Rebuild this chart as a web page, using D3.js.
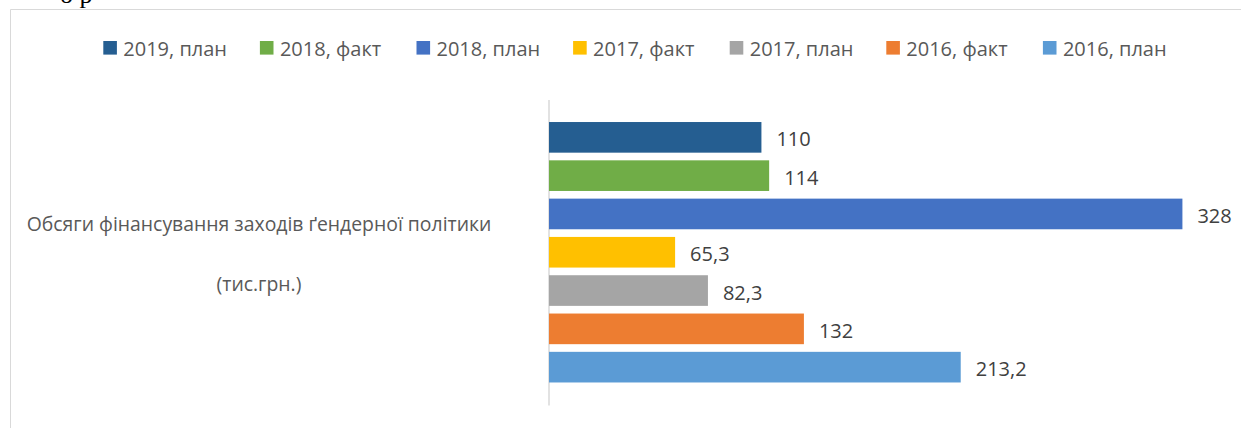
<!DOCTYPE html>
<html lang="uk">
<head>
<meta charset="utf-8">
<title>Обсяги фінансування заходів ґендерної політики</title>
<script src="https://cdn.jsdelivr.net/npm/d3@7"></script>
<style>
  html, body { margin: 0; padding: 0; background: #fff; }
  svg { display: block; }
  text { font-family: "Open Sans", "Noto Sans", sans-serif; }
</style>
</head>
<body>
<svg id="chart" width="1241" height="428"></svg>
<script>
// Series, top to bottom (same order in the legend)
const seriesNames = ["2019, план", "2018, факт", "2018, план", "2017, факт", "2017, план", "2016, факт", "2016, план"];
const seriesValues = [110, 114, 328, 65.3, 82.3, 132, 213.2];
const seriesColors = ["#255E91", "#70AD47", "#4472C4", "#FFC000", "#A5A5A5", "#ED7D31", "#5B9BD5"];
const categoryLines = ["Обсяги фінансування заходів ґендерної політики", "(тис.грн.)"];
const valueLabels = ["110", "114", "328", "65,3", "82,3", "132", "213,2"];

const data = seriesNames.map((name, i) => ({
  name, value: seriesValues[i], color: seriesColors[i], label: valueLabels[i]
}));

const svg = d3.select("#chart");

// Fragment of the preceding document line, clipped by the page top
svg.append("text")
  .attr("x", 60).attr("y", 2.5)
  .style("font-family", "'Liberation Serif', serif")
  .style("font-size", "26px")
  .attr("fill", "#000")
  .text("о  р");

// Chart frame (top and left edges are visible)
svg.append("path")
  .attr("d", "M10.5,428 V9.5 H1241")
  .attr("fill", "none")
  .attr("stroke", "#d9d9d9")
  .attr("stroke-width", 1);

// Scales
const x = d3.scaleLinear().domain([0, 350]).range([549, 1224.9]);
const y = d3.scaleBand()
  .domain(seriesNames)
  .range([99.5, 405])
  .paddingInner(0.2)
  .paddingOuter(0.588);

// Vertical category axis
const axis = d3.axisLeft(d3.scaleLinear().range([99.5, 405])).ticks(0).tickSize(0).tickFormat("");
const axisG = svg.append("g").attr("transform", "translate(548.5,0)").call(axis);
axisG.select(".domain").attr("stroke", "#d9d9d9").attr("stroke-width", 1.5);

// Bars
svg.append("g").selectAll("rect")
  .data(data)
  .join("rect")
  .attr("x", x(0))
  .attr("y", d => y(d.name))
  .attr("width", d => x(d.value) - x(0))
  .attr("height", y.bandwidth())
  .attr("fill", d => d.color);

// Value labels
svg.append("g").selectAll("text")
  .data(data)
  .join("text")
  .attr("x", d => x(d.value) + 15)
  .attr("y", d => y(d.name) + y.bandwidth() / 2)
  .attr("dy", "0.45em")
  .attr("fill", "#404040")
  .style("font-size", "20px")
  .text(d => d.label);

// Category label
svg.append("g").selectAll("text")
  .data(categoryLines)
  .join("text")
  .attr("x", 259)
  .attr("y", (d, i) => 231 + i * 59.5)
  .attr("text-anchor", "middle")
  .attr("fill", "#595959")
  .style("font-size", "19.4px")
  .text(d => d);

// Legend
const legend = svg.append("g").selectAll("g")
  .data(data)
  .join("g")
  .attr("transform", (d, i) => `translate(${103.3 + i * 156.6},41)`);
legend.append("rect")
  .attr("width", 13.6).attr("height", 13.6)
  .attr("fill", d => d.color);
legend.append("text")
  .attr("x", 20).attr("y", 14.5)
  .attr("fill", "#595959")
  .style("font-size", "20px")
  .text(d => d.name);
</script>
</body>
</html>
